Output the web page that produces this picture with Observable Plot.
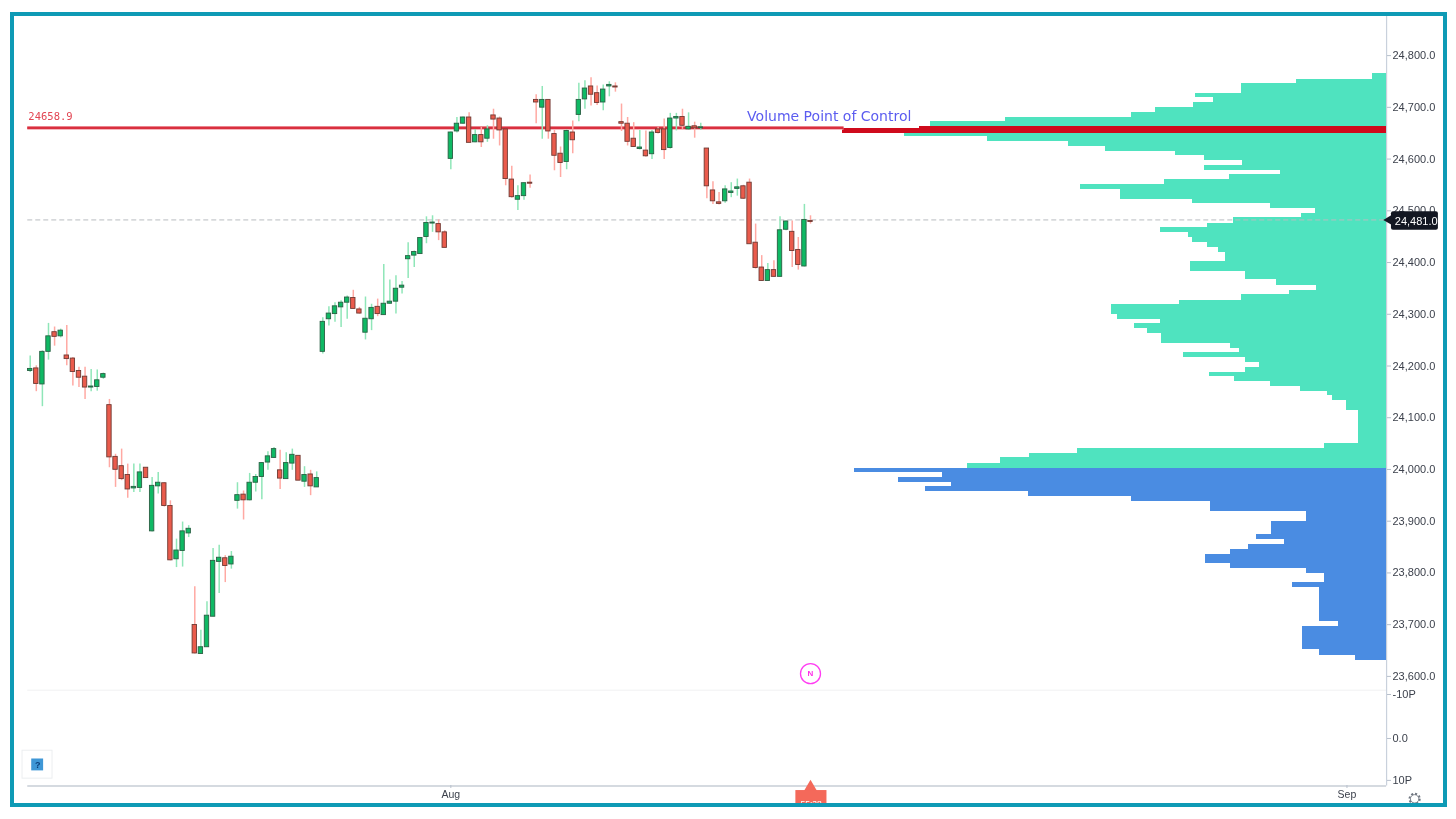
<!DOCTYPE html>
<html>
<head>
<meta charset="utf-8">
<script src="https://cdn.jsdelivr.net/npm/d3@7"></script>
<script src="https://cdn.jsdelivr.net/npm/@observablehq/plot@0.6"></script>
<style>
html,body{margin:0;padding:0;background:#fff;overflow:hidden}
#chart{position:absolute;left:0;top:0;width:1456px;height:819px;filter:blur(0.6px)}
#frame{position:absolute;left:10px;top:12px;width:1429px;height:787px;border:4px solid #0e9ab5;box-shadow:0 0 0 20px #fff;pointer-events:none}
</style>
</head>
<body>
<div id="chart"></div>
<div id="frame"></div>
<script>
// Candles: OHLC prices per bar
const opens = [24189,24194,24163,24226,24264,24256,24219,24213,24189,24178,24157,24158,24176,24123,24023,24005,23988,23962,23963,24002,23879,23966,23972,23928,23825,23841,23875,23698,23642,23655,23714,23820,23827,23815,23938,23950,23939,23973,23984,24012,24021,23997,23980,24010,24025,23975,23989,23964,
24226,24289,24299,24312,24321,24330,24308,24263,24289,24313,24297,24319,24323,24350,24405,24412,24415,24448,24474,24473,24457,24599,24652,24667,24679,24631,24645,24638,24683,24677,24656,24559,24520,24527,24553,24713,24698,24713,24647,24609,24593,24650,24684,24714,24739,24726,24708,24739,24739,24670,24667,24638,24618,24615,24608,24656,24656,24620,24677,24680,24656,24662,24658,24619,24538,24515,24517,24533,24541,24546,24553,24437,24389,24363,24384,24371,24462,24458,24423,24391,24479];
const highs = [24218,24199,24228,24281,24274,24270,24277,24215,24196,24196,24192,24191,24185,24134,24028,24038,24009,24009,24009,24002,23983,23993,23973,23938,23864,23897,23890,23772,23688,23743,23846,23852,23832,23840,23973,23957,23991,23989,24012,24033,24041,24036,24031,24038,24025,24004,23997,23994,
24292,24313,24321,24325,24334,24345,24312,24332,24318,24328,24395,24365,24373,24362,24437,24421,24447,24487,24489,24481,24460,24651,24679,24680,24688,24656,24660,24663,24695,24680,24656,24585,24547,24553,24568,24723,24739,24713,24654,24622,24655,24672,24745,24750,24756,24740,24742,24748,24746,24705,24679,24669,24654,24653,24654,24660,24676,24687,24687,24695,24688,24670,24668,24619,24555,24534,24547,24553,24560,24548,24560,24473,24412,24397,24402,24487,24479,24479,24447,24511,24489];
const lows = [24186,24149,24120,24210,24237,24253,24199,24160,24157,24134,24149,24150,24173,24002,23964,23977,23943,23954,23954,23981,23878,23951,23926,23822,23809,23810,23867,23642,23642,23655,23714,23759,23780,23806,23922,23901,23938,23955,23940,23997,24020,23960,23980,23997,23977,23964,23948,23964,
24222,24276,24283,24273,24289,24309,24299,24249,24267,24294,24297,24318,24299,24338,24368,24389,24415,24435,24457,24441,24427,24578,24649,24666,24630,24630,24621,24631,24637,24624,24547,24523,24499,24519,24542,24667,24637,24637,24576,24563,24578,24609,24671,24695,24701,24702,24692,24719,24728,24652,24624,24621,24616,24602,24598,24647,24598,24618,24653,24656,24654,24639,24654,24522,24511,24510,24513,24524,24527,24521,24434,24386,24363,24363,24370,24370,24460,24389,24384,24390,24473];
const closes = [24193,24164,24226,24256,24255,24267,24212,24187,24176,24157,24159,24171,24183,24022,23998,23980,23960,23965,23993,23982,23967,23973,23928,23823,23842,23879,23884,23643,23655,23716,23822,23828,23812,23830,23949,23939,23973,23984,24011,24024,24038,23981,24011,24027,23977,23988,23966,23982,
24284,24300,24314,24321,24331,24309,24300,24290,24311,24299,24319,24323,24348,24354,24411,24419,24446,24475,24476,24457,24427,24650,24667,24679,24630,24645,24631,24656,24675,24654,24560,24525,24527,24552,24551,24708,24713,24652,24605,24591,24653,24635,24713,24735,24723,24707,24733,24742,24737,24667,24632,24622,24621,24604,24650,24649,24616,24677,24680,24663,24661,24658,24660,24546,24517,24512,24540,24536,24544,24522,24434,24388,24363,24384,24371,24461,24478,24421,24394,24481,24477];

// Volume profile: each row spans its top price down to the next row's top
const profileTops = [24764,24753,24745,24726,24717,24707.5,24698,24689,24679,24671,24662,24658.6,24649,24642,24632,24623,24613,24605,24595,24586,24577,24568,24559,24549,24539,24521,24512,24503,24494,24485,24475,24466,24457,24447,24438,24428,24419,24401,24382,24365,24354,24345,24336,24326,24317,24299,24289,24280,24271,24261,24242,24233,24225,24215,24205,24196,24187,24178,24168,24159,24149,24141,24131,24112,24048,24039,24030,24021,24011,
24000,23992,23983,23974,23965,23955.5,23946,23937,23918,23899,23872,23863,23854,23844,23835,23816,23807,23797,23780,23770,23704,23695,23650,23640];
const profileFloor = 23630;
const profileVolumes = [14,90,145,191,173,193,231,255,381,456,467,544,482,399,318,281,211,182,144,182,106,157,222,306,266,194,116,71,85,153,179,226,198,194,179,168,161,196,141,110,70,97,145,207,275,269,226,252,239,225,156,147,203,141,127,141,177,152,116,86,59,54,40,28,62,309,357,386,419,
532,444,488,435,461,358,255,176,80,115,130,102,138,156,181,156,80,62,94,67,48,84,67,31];
const pocPrices = [24662,24658.6];
const splitPrice = 24000;

// Annotations and axes
const pocLevel = 24658.9;
const lastPrice = 24481;
const priceTicks = [24800,24700,24600,24500,24400,24300,24200,24100,24000,23900,23800,23700,23600];
const paneTicks = [23565,23480,23399];
const paneLabels = ["-10P","0.0","10P"];
const paneSeparator = 23572;
const monthTicks = [69,216];
const monthLabels = ["Aug","Sep"];

const candles = d3.range(opens.length).map(i => ({i, o:opens[i], h:highs[i], l:lows[i], c:closes[i], up:closes[i] >= opens[i]}));
const profileEnd = 222.5;      // bar position of the price axis
const volumePerBar = 6.096;    // profile volume units per bar step
const rows = profileTops.map((top,k) => ({
  top, bottom: k+1 < profileTops.length ? profileTops[k+1] : profileFloor, vol: profileVolumes[k],
  color: pocPrices.includes(top) ? "#cf0a1c" : top > splitPrice ? "#4fe3bf" : "#4a8ce2"
}));

const axisFont = {fontSize:11, fontFamily:"'Liberation Sans',sans-serif"};
const chart = Plot.plot({
  width:1456, height:819,
  marginLeft:0, marginRight:70, marginTop:16, marginBottom:34,
  style:{background:"transparent", fontFamily:"'Liberation Sans',sans-serif", overflow:"visible"},
  x:{type:"linear", domain:[0,128], range:[29.7,810], axis:null},
  y:{type:"linear", domain:[23600,24800], range:[675.2,54.4], axis:null},
  marks:[
    // pane separator and frame lines
    Plot.ruleY([paneSeparator], {x1:-0.4, x2:profileEnd, stroke:"#f0f1f2", strokeWidth:1}),
    Plot.ruleX([profileEnd], {y1:23387, y2:24874, stroke:"#c9d1dc", strokeWidth:1.2}),
    Plot.ruleY([23387], {x1:-0.4, x2:profileEnd, stroke:"#d5dae0", strokeWidth:2}),
    // profile
    Plot.rect(rows, {x1:d => profileEnd - d.vol/volumePerBar, x2:profileEnd, y1:"bottom", y2:"top", fill:d => d.color, shapeRendering:"crispEdges"}),
    // POC and last-price lines
    Plot.ruleY([lastPrice], {x1:-0.4, x2:profileEnd, stroke:"#b9bcc0", strokeWidth:1, strokeDasharray:"5 3"}),
    Plot.ruleY([pocLevel], {x1:-0.4, x2:133.5, stroke:"#f0a0a8", strokeWidth:3.6}),
    Plot.ruleY([pocLevel], {x1:-0.4, x2:133.5, stroke:"#d9303f", strokeWidth:2.2}),
    // candles
    Plot.ruleX(candles, {x:"i", y1:"l", y2:"h", stroke:d => d.up ? "#8fe6b8" : "#ffa9a3", strokeWidth:1.5}),
    Plot.rect(candles, {x1:d => d.i-0.36, x2:d => d.i+0.36, y1:d => Math.min(d.o,d.c), y2:d => Math.max(d.o,d.c),
      fill:d => d.up ? "#0fb964" : "#ea5b4c", stroke:d => d.up ? "#2a6044" : "#6f3a33", strokeWidth:0.9}),
    // labels
    Plot.text(["24658.9"], {x:-0.3, y:pocLevel, dy:-11, text:d => d, textAnchor:"start", fill:"#e24552", fontSize:10.5, fontFamily:"'DejaVu Sans Mono',monospace"}),
    Plot.text(["Volume Point of Control"], {x:117.6, y:pocLevel, dy:-11, text:d => d, textAnchor:"start", fill:"#5b5cf0", fontSize:14, fontFamily:"'DejaVu Sans',sans-serif"}),
    // axes
    Plot.axisY(priceTicks.concat(paneTicks), {anchor:"right", label:null, tickSize:4, tickPadding:2, dy:0.7, stroke:"#b8c0cc", fill:"#3c414c", ...axisFont,
      tickFormat:d => paneTicks.includes(d) ? paneLabels[paneTicks.indexOf(d)] : d3.format(",.1f")(d)}),
    Plot.axisX(monthTicks, {anchor:"bottom", label:null, tickSize:3, tickPadding:2, stroke:"#b8c0cc", fill:"#3c414c", ...axisFont, fontSize:10.5,
      tickFormat:d => monthLabels[monthTicks.indexOf(d)]}),
    // last-price tag
    Plot.rect([lastPrice], {x1:223.3, x2:231, y1:d => d-20, y2:d => d+16, fill:"#131722", rx:2}),
    Plot.dot([lastPrice], {x:223.1, y:d => d, symbol:"triangle", r:4.5, rotate:-90, fill:"#131722"}),
    Plot.text([lastPrice], {x:223.85, y:d => d, dy:1.5, text:d => d3.format(",.1f")(d), textAnchor:"start", fill:"#fff", ...axisFont}),
    // news marker
    Plot.dot([23604], {x:128, y:d => d, r:10, stroke:"#ff3df2", fill:"#fff", strokeWidth:1.3}),
    Plot.text(["N"], {x:128, y:23604, text:d => d, fill:"#ff2de8", fontSize:8, fontWeight:"bold"}),
    // countdown tag
    Plot.dot([23384], {x:128, y:d => d, symbol:"triangle", r:5, fill:"#f4695a"}),
    Plot.rect([23378], {x1:125.6, x2:130.7, y1:23345, y2:d => d, fill:"#f4695a"}),
    Plot.text(["55:38"], {x:128.1, y:23352, text:d => d, fill:"#fff", fontSize:8.5}),
    // help badge
    Plot.rect([0], {x1:-1.26, x2:3.66, y1:23401, y2:23455, fill:"#fff", stroke:"#eceef0", strokeWidth:1}),
    Plot.rect([0], {x1:0.25, x2:2.2, y1:23416, y2:23439, fill:"#3f97d6"}),
    Plot.text(["?"], {x:1.22, y:23427, text:d => d, fill:"#0b3f7a", fontSize:9, fontWeight:"bold"}),
    // settings gear
    Plot.dot([23362], {x:227.1, y:d => d, r:5, stroke:"#6f7680", strokeWidth:2.2, strokeDasharray:"2 1.9", fill:"none"}),
    Plot.dot([23362], {x:227.1, y:d => d, r:4.2, stroke:"#6f7680", strokeWidth:0.9, fill:"#fff"})
  ]
});
document.getElementById("chart").append(chart);
</script>
</body>
</html>
